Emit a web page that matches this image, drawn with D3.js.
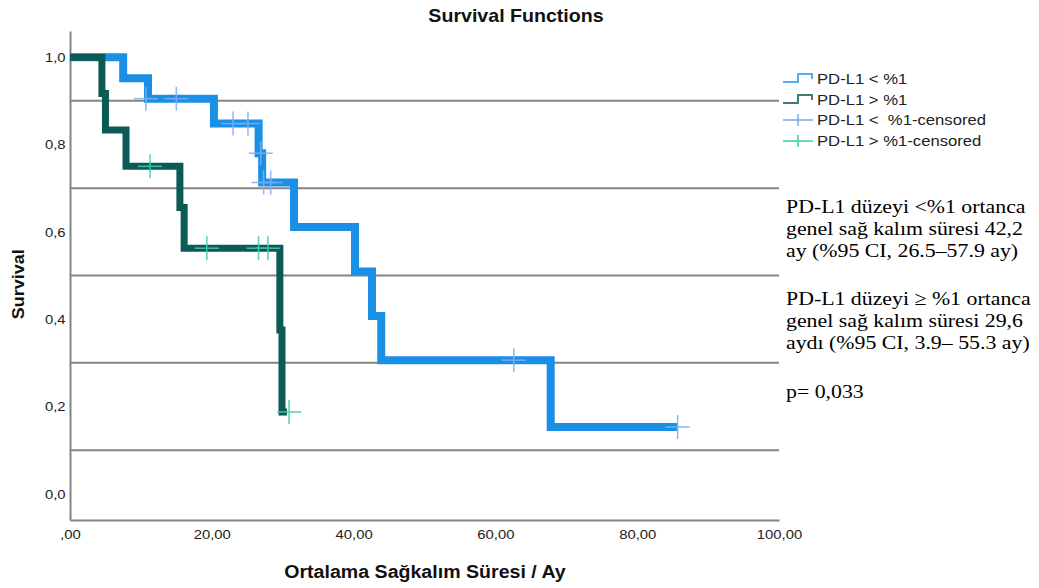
<!DOCTYPE html>
<html><head><meta charset="utf-8">
<script src="https://cdn.jsdelivr.net/npm/d3@7"></script>
<style>body{margin:0;background:#fff}svg{display:block}</style>
</head><body>
<svg id="c" width="1039" height="588"></svg>
<script>
// ---- data ----
const lowTimes  = [0, 7.5, 11.0, 20.3, 26.6, 27.1, 31.6, 40.2, 42.6, 43.9, 67.8, 85.7];
const lowSurv   = [1.0, 0.952, 0.905, 0.848, 0.780, 0.713, 0.611, 0.509, 0.407, 0.306, 0.153, 0.153];
const lowCensT  = [10.7, 15.0, 23.0, 25.1, 26.9, 27.3, 28.3, 62.6, 85.7];
const lowCensS  = [0.905, 0.905, 0.848, 0.848, 0.780, 0.713, 0.713, 0.306, 0.153];
const highTimes = [0, 4.5, 5.0, 7.9, 15.5, 16.1, 29.6, 29.9, 30.6];
const highSurv  = [1.0, 0.917, 0.833, 0.75, 0.656, 0.5625, 0.375, 0.1875, 0.1875];
const highCensT = [11.3, 19.3, 26.6, 27.9, 30.9];
const highCensS = [0.75, 0.5625, 0.5625, 0.5625, 0.1875];
const refLines  = [0.9, 0.7, 0.5, 0.3, 0.1];
const xTicks    = [0, 20, 40, 60, 80, 100];
const xTickLabels = [",00", "20,00", "40,00", "60,00", "80,00", "100,00"];
const yTicks    = [0, 0.2, 0.4, 0.6, 0.8, 1.0];
const yTickLabels = ["0,0", "0,2", "0,4", "0,6", "0,8", "1,0"];
const legendLabels = ["PD-L1 < %1", "PD-L1 > %1", "PD-L1 <  %1-censored", "PD-L1 > %1-censored"];
const noteBlocks = [
  ["PD-L1 düzeyi <%1 ortanca", "genel sağ kalım süresi 42,2", "ay (%95 CI, 26.5–57.9 ay)"],
  ["PD-L1 düzeyi ≥ %1 ortanca", "genel sağ kalım süresi 29,6", "aydı (%95 CI, 3.9– 55.3 ay)"],
  ["p= 0,033"]
];

// ---- styles ----
const C = {low:"#1a8fe6", high:"#0b5a55", lowCens:"#7fb0f5", highCens:"#3fd0ac", grid:"#848484", text:"#222"};
const svg = d3.select("#c");
const x = d3.scaleLinear().domain([0,100]).range([70,779]);
const y = d3.scaleLinear().domain([-0.06,1.06]).range([520,31]);
const sans = "Liberation Sans, Arial, sans-serif";
const serif = "Liberation Serif, Times New Roman, serif";

function stext(px, py, sx, size, txt, opts={}){
  const t = svg.append("text").attr("transform",`translate(${px},${py})${opts.rot?` rotate(${opts.rot})`:""} scale(${sx},1)`)
    .attr("text-anchor",opts.anchor||"start").attr("font-family",opts.family||sans)
    .attr("font-size",size).attr("fill",opts.fill||"#111");
  if(opts.bold) t.attr("font-weight","bold");
  t.text(txt);
  return t;
}

// title
stext(516, 22, 1.06, 18.5, "Survival Functions", {anchor:"middle", bold:true});

// reference lines
svg.append("g").selectAll("line").data(refLines).join("line")
  .attr("x1",x(0)).attr("x2",x(100)).attr("y1",d=>y(d)).attr("y2",d=>y(d))
  .attr("stroke",C.grid).attr("stroke-width",2);

// axes
const xAxis = d3.axisBottom(x).tickValues(xTicks).tickFormat((d,i)=>xTickLabels[i]).tickSize(0).tickPadding(9);
const gx = svg.append("g").attr("transform",`translate(0,${y(-0.06)})`).call(xAxis);
gx.select(".domain").attr("stroke",C.grid).attr("stroke-width",2);
gx.selectAll("text").attr("font-family",sans).attr("font-size",13.5).attr("fill",C.text).attr("transform","scale(1.1,1)");
const yAxis = d3.axisLeft(y).tickValues(yTicks).tickFormat((d,i)=>yTickLabels[i]).tickSize(0).tickPadding(4);
const gy = svg.append("g").attr("transform",`translate(${x(0)},0)`).call(yAxis);
gy.select(".domain").attr("stroke",C.grid).attr("stroke-width",2);
gy.selectAll("text").attr("font-family",sans).attr("font-size",13.5).attr("fill",C.text).attr("transform","scale(1.1,1)");

// axis titles
stext(24, y(0.48), 1.09, 16.5, "Survival", {anchor:"middle", bold:true, rot:-90});
stext(425, 578, 1.12, 17.5, "Ortalama Sağkalım Süresi / Ay", {anchor:"middle", bold:true});

// curves
const line = d3.line().x(d=>x(d[0])).y(d=>y(d[1])).curve(d3.curveStepAfter);
const plot = svg.append("g");
plot.append("path").datum(d3.zip(lowTimes,lowSurv)).attr("d",line)
  .attr("fill","none").attr("stroke",C.low).attr("stroke-width",8).attr("stroke-linejoin","miter");
plot.append("path").datum(d3.zip(highTimes,highSurv)).attr("d",line)
  .attr("fill","none").attr("stroke",C.high).attr("stroke-width",7).attr("stroke-linejoin","miter");

function censor(ts, ss, color){
  const g = plot.append("g").attr("stroke",color).attr("stroke-width",1.6).attr("opacity",0.85);
  const pts = d3.zip(ts,ss);
  g.selectAll("line.h").data(pts).join("line").attr("class","h")
    .attr("x1",d=>x(d[0])-12).attr("x2",d=>x(d[0])+12).attr("y1",d=>y(d[1])).attr("y2",d=>y(d[1]));
  g.selectAll("line.v").data(pts).join("line").attr("class","v")
    .attr("x1",d=>x(d[0])).attr("x2",d=>x(d[0])).attr("y1",d=>y(d[1])-12).attr("y2",d=>y(d[1])+12);
}
censor(lowCensT,lowCensS,C.lowCens);
censor(highCensT,highCensS,C.highCens);

// legend
const lg = svg.append("g").attr("transform","translate(783,0)");
const rowY = [79, 100, 120, 141];
lg.append("rect").attr("x",0).attr("y",68).attr("width",210).attr("height",84).attr("fill","#fff");
const legColors = [C.low, C.high, C.lowCens, C.highCens];
legendLabels.forEach((lab,i)=>{
  const yy = rowY[i];
  if(i<2){
    lg.append("path").attr("d",`M0,${yy+3}H15V${yy-5}H29V${yy}`).attr("fill","none")
      .attr("stroke",i===0?"#5aabea":"#3f7c78").attr("stroke-width",2);
  } else {
    lg.append("line").attr("x1",0).attr("x2",30).attr("y1",yy).attr("y2",yy).attr("stroke",legColors[i]).attr("stroke-width",1.6);
    lg.append("line").attr("x1",15).attr("x2",15).attr("y1",yy-6).attr("y2",yy+6).attr("stroke",legColors[i]).attr("stroke-width",1.6);
  }
  lg.append("text").attr("transform",`translate(34,${yy+5}) scale(1.15,1)`).attr("font-family",sans).attr("font-size",14.5)
    .style("white-space","pre").attr("fill",C.text).text(lab);
});

// annotation notes
const blockTop = [213, 305, 398];
noteBlocks.forEach((blk,b)=>{
  blk.forEach((s,i)=>{
    stext(786, blockTop[b]+i*22, 1.12, 19.5, s, {family:serif, fill:"#000"});
  });
});
</script>
</body></html>
